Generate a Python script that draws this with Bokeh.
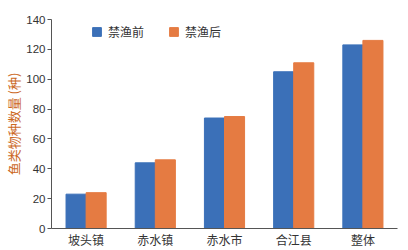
from bokeh.plotting import figure
from bokeh.models import ColumnDataSource, Legend, LegendItem, FactorRange
from bokeh.transform import dodge
from bokeh.embed import file_html
from bokeh.resources import INLINE

categories = ["坡头镇", "赤水镇", "赤水市", "合江县", "整体"]
before = [23, 44, 74, 105, 123]
after = [24, 46, 75, 111, 126]
series_names = ["禁渔前", "禁渔后"]
yticks = [0, 20, 40, 60, 80, 100, 120, 140]

blue = "#3b70b8"
orange = "#e57b42"
src = ColumnDataSource(dict(cat=categories, before=before, after=after))

p = figure(x_range=FactorRange(*categories), y_range=(0, 140),
           width=408, height=250,
           min_border_left=51, min_border_right=11, min_border_top=19, min_border_bottom=0,
           output_backend="svg", toolbar_location=None)

r1 = p.vbar(x=dodge("cat", -0.145, range=p.x_range), top="before", width=0.29,
            source=src, fill_color=blue, line_color=blue)
r2 = p.vbar(x=dodge("cat", 0.145, range=p.x_range), top="after", width=0.29,
            source=src, fill_color=orange, line_color=orange)

p.xgrid.visible = False
p.ygrid.visible = False
p.outline_line_color = None
p.x_range.range_padding = 0

p.yaxis.ticker = yticks
p.yaxis.minor_tick_line_color = None
p.yaxis.major_tick_out = 4
p.yaxis.major_tick_in = 0
p.yaxis.axis_line_color = "#555555"
p.yaxis.major_tick_line_color = "#555555"
p.yaxis.major_label_text_font = "Liberation Sans"
p.yaxis.major_label_text_font_size = "11.5px"
p.yaxis.major_label_text_color = "#333333"
p.yaxis.major_label_standoff = 2
p.yaxis.axis_label = "鱼类物种数量 (种)"
p.yaxis.axis_label_text_font = "Noto Sans CJK SC"
p.yaxis.axis_label_text_font_size = "13px"
p.yaxis.axis_label_text_font_style = "normal"
p.yaxis.axis_label_text_color = "#cc6a1f"
p.yaxis.axis_label_standoff = 0

p.xaxis.major_tick_line_color = None
p.xaxis.major_tick_out = 0
p.xaxis.minor_tick_line_color = None
p.xaxis.axis_line_color = "#555555"
p.xaxis.major_label_text_font = "Noto Sans CJK SC"
p.xaxis.major_label_text_font_size = "12px"
p.xaxis.major_label_text_color = "#333333"
p.xaxis.major_label_standoff = 2

legend = Legend(items=[LegendItem(label=series_names[0], renderers=[r1]),
                       LegendItem(label=series_names[1], renderers=[r2])],
                orientation="horizontal", location=(40, 188),
                label_text_font="Noto Sans CJK SC", label_text_font_size="12px",
                label_text_color="#333333", glyph_width=11, glyph_height=11,
                label_standoff=6, spacing=24, border_line_color=None,
                background_fill_alpha=0, padding=4, margin=0)
p.add_layout(legend)

open("out.html", "w").write(file_html(p, INLINE))
